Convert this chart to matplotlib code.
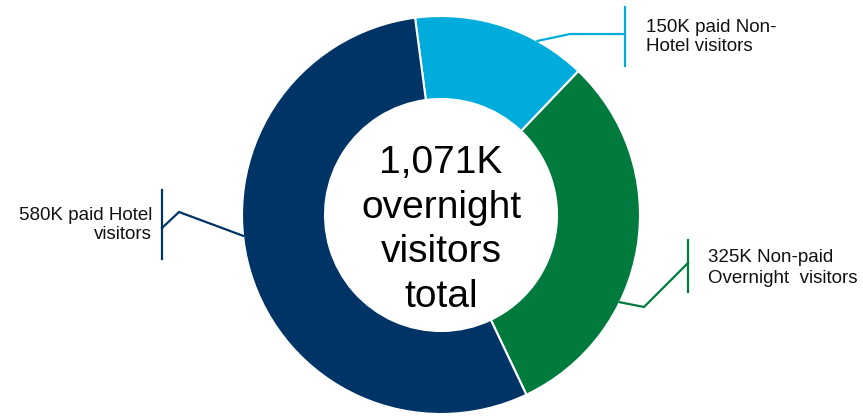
import matplotlib
matplotlib.use("Agg")
import matplotlib.pyplot as plt
import numpy as np

plt.rcParams['font.family'] = ['Liberation Sans', 'DejaVu Sans']

# Visitor segments (thousands), drawn clockwise from the top
segments = ["150K paid Non-\nHotel visitors",
            "325K Non-paid\nOvernight  visitors",
            "580K paid Hotel\nvisitors"]
visitors_k = [150, 325, 580]
colors = ["#00ACDC", "#007A3D", "#003366"]
center_label = "1,071K\novernight\nvisitors\ntotal"

W, H = 863, 418
fig = plt.figure(figsize=(W / 100, H / 100), dpi=100)
ax = fig.add_axes([0, 0, 1, 1])

cx, cy, R, ring = 441, H - 215, 199, 83
wedges, _ = ax.pie(visitors_k, colors=colors, startangle=97.5, counterclock=False,
                   center=(cx, cy), radius=R,
                   wedgeprops=dict(width=ring, edgecolor="white", linewidth=1.5))
ax.set_xlim(0, W)
ax.set_ylim(0, H)
ax.set_aspect("equal")
ax.axis("off")

ax.text(cx, H - 230, center_label, ha="center", va="center", fontsize=28,
        linespacing=1.3, color="black")


def ring_point(angle_deg):
    a = np.deg2rad(angle_deg)
    return cx + R * np.cos(a), cy + R * np.sin(a)


# leader lines: anchor angle on ring, elbow, vertical bar, label placement
callouts = [
    dict(angle=61, elbow=(570, 34), bar_x=625, bar_y=(7, 66), join_y=34,
         text_xy=(646, 37), ha="left", ls=1.22),
    dict(angle=-26, elbow=(644, 307), bar_x=688, bar_y=(240, 292), join_y=263,
         text_xy=(708, 268), ha="left", ls=1.32),
    dict(angle=186, elbow=(179, 212), bar_x=162, bar_y=(190, 259), join_y=228,
         text_xy=(152, 225), ha="right", ls=1.22),
]

for label, col, c in zip(segments, colors, callouts):
    x0, y0 = ring_point(c["angle"])
    ex, ey = c["elbow"]
    ax.plot([x0, ex, c["bar_x"]], [y0, H - ey, H - c["join_y"]], color=col,
            lw=1.6, solid_joinstyle="miter", zorder=3)
    ax.plot([c["bar_x"], c["bar_x"]], [H - c["bar_y"][0], H - c["bar_y"][1]],
            color=col, lw=1.6, zorder=3)
    tx, ty = c["text_xy"]
    ax.text(tx, H - ty, label, ha=c["ha"], va="center", fontsize=13.5,
            linespacing=c["ls"], color="#111111",
            multialignment=c["ha"])

fig.savefig("out.png", dpi=100)
